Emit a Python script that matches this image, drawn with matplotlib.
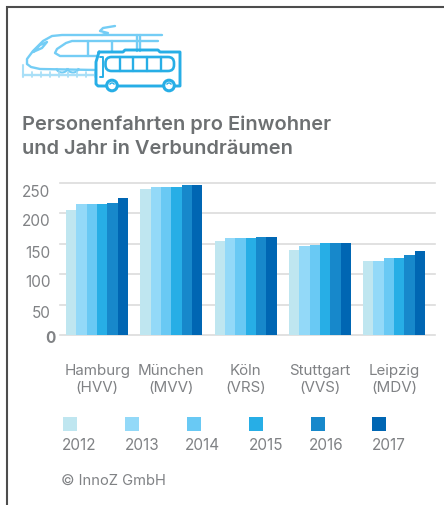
import numpy as np
from matplotlib import pyplot as plt
from matplotlib.patches import Arc, Circle, FancyBboxPatch, Rectangle
from matplotlib.transforms import ScaledTranslation

plt.rcParams['font.family'] = ['Inter', 'DejaVu Sans']

staedte = ["Hamburg\n(HVV)", "München\n(MVV)", "Köln\n(VRS)", "Stuttgart\n(VVS)", "Leipzig\n(MDV)"]
jahre = ["2012", "2013", "2014", "2015", "2016", "2017"]
werte_2012 = [205, 240, 154, 139, 121]
werte_2013 = [215, 243, 159, 146, 121]
werte_2014 = [215, 243, 159, 148, 126]
werte_2015 = [215, 243, 159, 151, 126]
werte_2016 = [217, 246, 161, 152, 131]
werte_2017 = [225, 246, 162, 152, 138]
farben = ["#bfe6f0", "#93d9f8", "#69c9f4", "#27aee6", "#1788cb", "#0066b3"]
y_ticks = [0, 50, 100, 150, 200, 250]

B, H = 444, 506
GRAU = "#808285"
HELL = "#74cdf5"
BUS = "#27aee6"

fig = plt.figure(figsize=(B / 100, H / 100), dpi=100, facecolor="white")

####### balken #######
ax = fig.add_axes([60 / B, 1 - 336 / H, 375 / B, 152 / H])
alle = [werte_2012, werte_2013, werte_2014, werte_2015, werte_2016, werte_2017]
breite = 0.835 / 6
x = np.arange(len(staedte))
for i, werte in enumerate(alle):
    ax.bar(x + (i - 2.5) * breite, werte, breite, color=farben[i], zorder=3, linewidth=0)

ax.set_xlim(-0.5, 4.55)
ax.set_ylim(0, 250)
ax.set_yticks(y_ticks)
ax.set_xticks(x)
ax.set_xticklabels(staedte, fontsize=10.9, color=GRAU, linespacing=1.3)
ax.tick_params(axis="x", length=0, pad=20)
ax.tick_params(axis="y", length=0, pad=7, labelsize=11, labelcolor=GRAU)
ax.get_yticklabels()[0].set_fontweight("bold")
ax.grid(axis="y", color="#dcdcdc", linewidth=1.2, zorder=0, clip_on=False)
ax.set_axisbelow(True)
for s in ax.spines.values():
    s.set_visible(False)

# the labels sit a bit under their grid lines in the original, the 0 further right
versatz_x = [5, 0, 0, 0, 0, 0]
versatz_y = [1, 6, 6, 7, 6, 7]
for lab, dx, dy in zip(ax.get_yticklabels(), versatz_x, versatz_y):
    lab.set_transform(lab.get_transform() + ScaledTranslation(dx / 100, -dy / 100, fig.dpi_scale_trans))

####### alles andere in pixeln #######
ov = fig.add_axes([0, 0, 1, 1], facecolor="none")
ov.set_xlim(0, B)
ov.set_ylim(H, 0)
ov.axis("off")

# rahmen
ov.plot([6.5, 6.5, B], [H, 7.5, 7.5], color="#4d4d4d", lw=1.5, solid_joinstyle="miter")

# titel
ov.text(22, 130, "Personenfahrten pro Einwohner", fontsize=14.45, fontweight="semibold", color="#6d7072", va="baseline")
ov.text(22, 154, "und Jahr in Verbundräumen", fontsize=14.45, fontweight="semibold", color="#6d7072", va="baseline")

# legende
legende_x = [63, 125, 187, 249, 311, 372]
text_x = [62, 125, 185, 249, 309, 372]
for i, jahr in enumerate(jahre):
    ov.add_patch(Rectangle((legende_x[i], 418), 14, 14, color=farben[i], lw=0))
    ov.text(text_x[i], 450, jahr, fontsize=11, color=GRAU, va="baseline")

ov.text(61, 485, "© InnoZ GmbH", fontsize=10.6, color=GRAU, va="baseline")

# zug
def linie(xs, ys, farbe=HELL, lw=1.7):
    ov.plot(xs, ys, color=farbe, lw=lw, solid_capstyle="round", solid_joinstyle="round")

linie([162, 62, 52, 43, 33, 27, 27, 31, 40, 96], [36, 36, 37, 42, 52, 60, 65, 68, 70, 71])
linie([33, 40, 47, 42, 33], [53, 46, 43, 49, 53])
linie([97, 60, 55, 57, 66, 72, 158], [57, 57, 54, 50, 44, 42, 42])
linie([87.5, 87.5], [42, 57])
linie([112, 112], [42, 52])
linie([137, 137], [36, 52])
linie([140, 140], [36, 52])
linie([115, 103, 100, 108, 102], [27, 29, 32, 34, 36])
for wx in [62, 73]:
    ov.add_patch(Arc((wx, 69), 11, 9, theta1=0, theta2=180, color=HELL, lw=1.5))
linie([23, 95], [76, 76], "#a9dff7", 1.7)
linie([23, 23], [66, 78], "#a9dff7", 1.5)
for tx in range(32, 96, 9):
    linie([tx, tx], [73, 78], "#a9dff7", 1.3)

# bus
ov.fill([99, 123, 125, 158, 160, 180, 180, 97, 96, 96], [53, 53, 51, 51, 53, 53, 87, 87, 85, 63], color="white", lw=0)
linie([99, 123, 125, 158, 160, 180, 180, 98, 96, 96, 99], [53, 53, 51, 51, 53, 53, 87, 87, 85, 63, 53], BUS, 2.1)
ov.add_patch(FancyBboxPatch((105.5, 58), 68.5, 14, boxstyle="round,pad=0,rounding_size=6",
                            fc="none", ec=BUS, lw=1.9))
for tx in [120, 133, 147, 161]:
    linie([tx, tx], [58, 72], BUS, 1.7)
linie([100, 103, 103, 100], [58, 58, 78, 78], BUS, 1.4)
for wx in [112, 169]:
    ov.add_patch(Circle((wx, 86.5), 5.3, fc="white", ec=BUS, lw=2.2, zorder=4))
    ov.add_patch(Arc((wx, 86.5), 5, 5, theta1=200, theta2=340, color=BUS, lw=1, zorder=5))

fig.savefig("out.png", dpi=100)
